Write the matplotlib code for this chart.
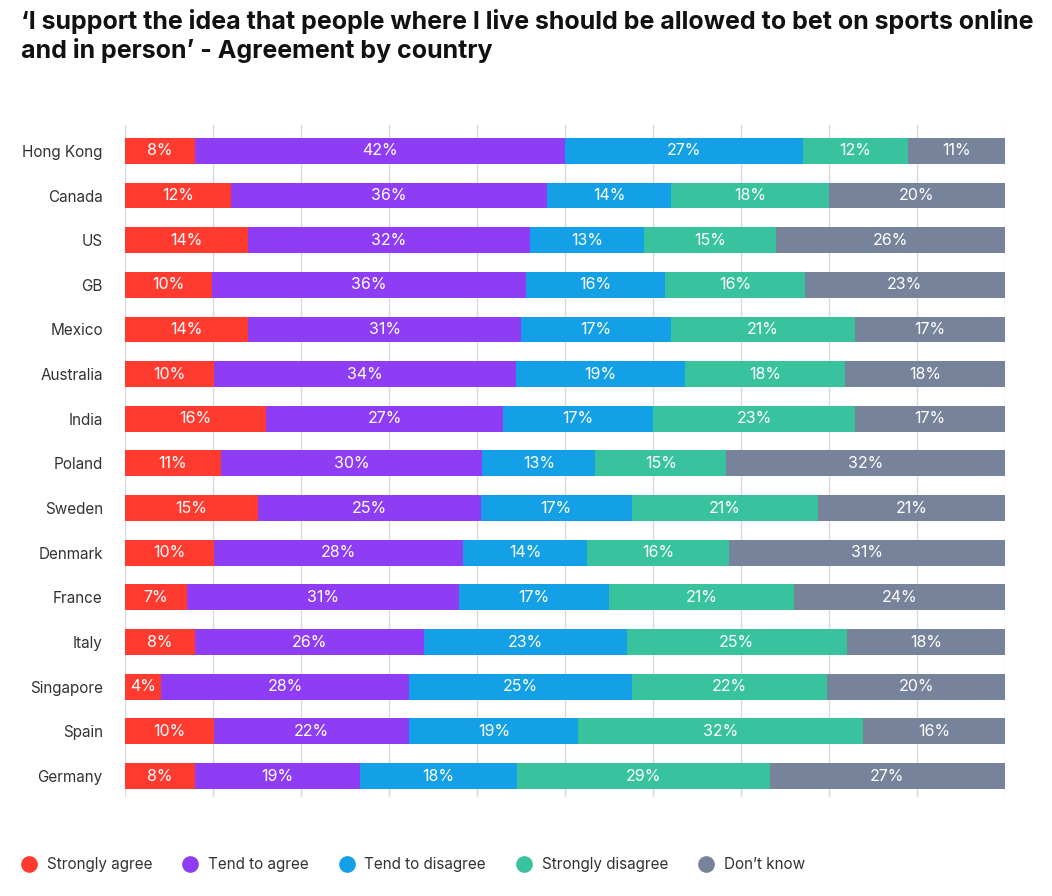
import numpy as np
import matplotlib.pyplot as plt
from matplotlib.lines import Line2D

plt.rcParams['font.family'] = ['Inter', 'DejaVu Sans']

countries = ['Hong Kong', 'Canada', 'US', 'GB', 'Mexico', 'Australia', 'India', 'Poland',
             'Sweden', 'Denmark', 'France', 'Italy', 'Singapore', 'Spain', 'Germany']
categories = ['Strongly agree', 'Tend to agree', 'Tend to disagree', 'Strongly disagree', 'Don\u2019t know']

strongly_agree = [8, 12, 14, 10, 14, 10, 16, 11, 15, 10, 7, 8, 4, 10, 8]
tend_agree = [42, 36, 32, 36, 31, 34, 27, 30, 25, 28, 31, 26, 28, 22, 19]
tend_disagree = [27, 14, 13, 16, 17, 19, 17, 13, 17, 14, 17, 23, 25, 19, 18]
strongly_disagree = [12, 18, 15, 16, 21, 18, 23, 15, 21, 16, 21, 25, 22, 32, 29]
dont_know = [11, 20, 26, 23, 17, 18, 17, 32, 21, 31, 24, 18, 20, 16, 27]

colors = ['#FF3B30', '#8E3DF5', '#14A0E6', '#38C39E', '#76839A']

data = np.array([strongly_agree, tend_agree, tend_disagree, strongly_disagree, dont_know], dtype=float)
# each row drawn as a full 100% bar
shares = data / data.sum(axis=0) * 100

fig = plt.figure(figsize=(10.52, 8.96), dpi=100)
ax = fig.add_axes([0.1188, 0.1105, 0.8365, 0.75])

y = np.arange(len(countries))
left = np.zeros(len(countries))
for k in range(len(categories)):
    ax.barh(y, shares[k], left=left, height=0.58, color=colors[k], zorder=3)
    for i in range(len(countries)):
        ax.text(left[i] + shares[k][i] / 2, y[i], f'{int(data[k][i])}%', ha='center', va='center',
                color='white', fontsize=11.5, zorder=4)
    left += shares[k]

ax.set_xlim(0, 100)
ax.set_ylim(len(countries) - 1 + 0.47, -0.58)
ax.set_xticks(np.arange(0, 101, 10))
ax.set_xticklabels([])
ax.grid(axis='x', color='#D9D9E6', lw=1, zorder=0)
ax.set_yticks(y)
ax.set_yticklabels(countries, fontsize=11, color='#333333')
ax.tick_params(axis='y', length=0, pad=16)
ax.tick_params(axis='x', length=0)
for s in ax.spines.values():
    s.set_visible(False)

fig.text(0.02, 0.99, '\u2018I support the idea that people where I live should be allowed to bet on sports online\n'
         'and in person\u2019 - Agreement by country', ha='left', va='top', fontsize=18,
         fontweight='bold', color='#111111', linespacing=1.2)

handles = [Line2D([], [], marker='o', ls='', markersize=11, markerfacecolor=c, markeredgecolor=c)
           for c in colors]
fig.legend(handles, categories, loc='center left', bbox_to_anchor=(0.0, 0.035), ncol=5,
           frameon=False, fontsize=11, handletextpad=0.15, columnspacing=1.5, labelcolor='#333333')

fig.savefig('out.png', dpi=100)
